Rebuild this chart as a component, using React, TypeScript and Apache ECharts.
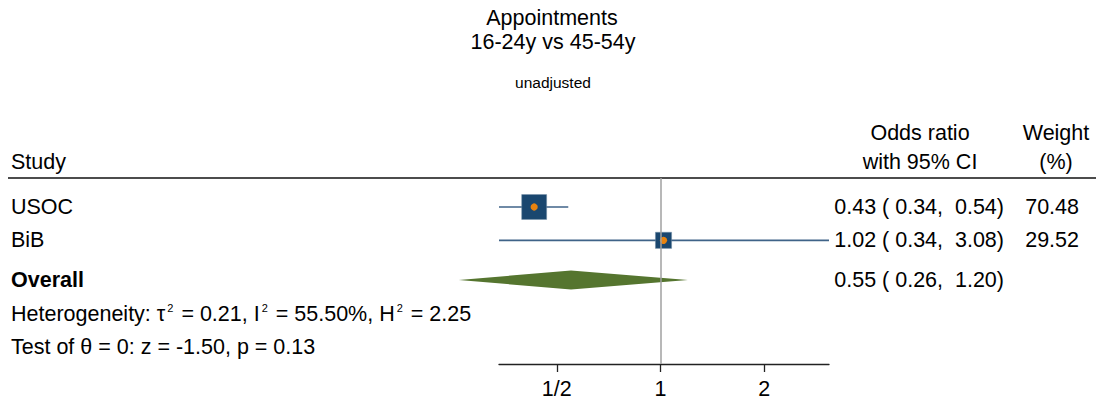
import React, { useEffect, useRef } from "react";
import * as echarts from "echarts";

// ---- data ----
const studies = ["USOC", "BiB"];
const oddsRatios = [0.43, 1.02];
const ciLower = [0.34, 0.34];
const ciUpper = [0.54, 3.08];
const weights = [70.48, 29.52];
const studyRows = [1, 2];

const overallLabel = "Overall";
const overallOR = 0.55;
const overallLower = 0.26;
const overallUpper = 1.2;
const overallRow = 3.19;

const tickValues = [0.5, 1, 2];
const tickLabels = ["1/2", "1", "2"];

const hetTau2 = "0.21";
const hetI2 = "55.50%";
const hetH2 = "2.25";
const testZ = "-1.50";
const testP = "0.13";

const titleLines = ["Appointments", "16-24y vs 45-54y"];
const subtitle = "unadjusted";

// ---- styling ----
const FONT = "'Liberation Sans', Arial, sans-serif";
const FS = 21.5;
const NAVY = "#1a476f";
const CI_LINE = "#3f6388";
const ORANGE = "#e8830f";
const GREEN = "#55752f";

const fmt = (v: number) => v.toFixed(2);
const pad5 = (v: number) => {
  const s = fmt(v);
  return s.length < 5 ? " ".repeat(5 - s.length) + s : s;
};
const ciText = (e: number, lo: number, hi: number) =>
  `${fmt(e)} (${pad5(lo)}, ${pad5(hi)})`;

const textStyle = (extra: any = {}) => ({
  fill: "#000",
  fontSize: FS,
  fontFamily: FONT,
  verticalAlign: "middle",
  ...extra,
});

export default function App() {
  const ref = useRef<HTMLDivElement>(null);

  useEffect(() => {
    if (!ref.current) return;
    const chart = echarts.init(ref.current, undefined, { renderer: "svg" });

    const studyData = studies.map((_, i) => [
      Math.log2(oddsRatios[i]),
      studyRows[i],
      Math.log2(ciLower[i]),
      Math.log2(ciUpper[i]),
      weights[i],
      i,
    ]);
    const overallData = [
      [Math.log2(overallOR), overallRow, Math.log2(overallLower), Math.log2(overallUpper)],
    ];

    const option: any = {
      animation: false,
      grid: {
        left: 499,
        right: 269,
        top: 178,
        bottom: 39,
        containLabel: false,
        outerBoundsMode: "none",
      },
      xAxis: {
        type: "value",
        min: Math.log2(0.34),
        max: Math.log2(3.08),
        position: "bottom",
        axisLine: { show: true, onZero: false, lineStyle: { color: "#222", width: 1.3 } },
        axisTick: {
          show: true,
          inside: false,
          customValues: tickValues.map((v) => Math.log2(v)),
          length: 8,
          lineStyle: { color: "#222", width: 1.3 },
        },
        axisLabel: {
          show: true,
          inside: false,
          customValues: tickValues.map((v) => Math.log2(v)),
          formatter: (v: number) => {
            let best = 0;
            tickValues.forEach((t, i) => {
              if (Math.abs(Math.log2(t) - v) < Math.abs(Math.log2(tickValues[best]) - v)) best = i;
            });
            return tickLabels[best];
          },
          fontSize: FS,
          fontFamily: FONT,
          color: "#000",
          margin: 14,
        },
        splitLine: { show: false },
      },
      yAxis: {
        type: "value",
        min: 0.13,
        max: 5.71,
        inverse: true,
        show: false,
      },
      graphic: [
        {
          type: "text",
          x: 552,
          y: 18,
          style: textStyle({ text: titleLines[0], align: "center" }),
        },
        {
          type: "text",
          x: 553,
          y: 42,
          style: textStyle({ text: titleLines[1], align: "center" }),
        },
        {
          type: "text",
          x: 553,
          y: 82,
          style: textStyle({ text: subtitle, align: "center", fontSize: 15.5 }),
        },
        { type: "text", x: 11, y: 162, style: textStyle({ text: "Study" }) },
        { type: "text", x: 920, y: 133, style: textStyle({ text: "Odds ratio", align: "center" }) },
        { type: "text", x: 920, y: 162, style: textStyle({ text: "with 95% CI", align: "center" }) },
        { type: "text", x: 1056, y: 133, style: textStyle({ text: "Weight", align: "center" }) },
        { type: "text", x: 1056, y: 162, style: textStyle({ text: "(%)", align: "center" }) },
        {
          type: "line",
          shape: { x1: 8, y1: 178, x2: 1096, y2: 178 },
          style: { stroke: "#111", lineWidth: 1.5 },
        },
        {
          type: "text",
          x: 11,
          y: 314,
          style: textStyle({
            text: `Heterogeneity: \u03c4{sup|2} = ${hetTau2}, I{sup|2} = ${hetI2}, H{sup|2} = ${hetH2}`,
            rich: { sup: { fontSize: 11, fontFamily: FONT, fill: "#000", verticalAlign: "top", lineHeight: 24, padding: [0, 2, 0, 2] } },
          }),
        },
        {
          type: "text",
          x: 11,
          y: 347,
          style: textStyle({ text: `Test of \u03b8 = 0: z = ${testZ}, p = ${testP}` }),
        },
      ],
      series: [
        {
          type: "custom",
          name: "studies",
          clip: false,
          encode: { x: 0, y: 1 },
          data: studyData,
          renderItem: (params: any, api: any) => {
            const i = api.value(5);
            const c = api.coord([api.value(0), api.value(1)]);
            const lo = api.coord([api.value(2), api.value(1)]);
            const hi = api.coord([api.value(3), api.value(1)]);
            const side = 2.97 * Math.sqrt(api.value(4));
            return {
              type: "group",
              children: [
                {
                  type: "line",
                  shape: { x1: lo[0], y1: c[1], x2: hi[0], y2: c[1] },
                  style: { stroke: CI_LINE, lineWidth: 1.6 },
                },
                {
                  type: "rect",
                  shape: { x: c[0] - side / 2, y: c[1] - side / 2, width: side, height: side },
                  style: { fill: NAVY, stroke: "#6f8aa3", lineWidth: 0.5 },
                },
                {
                  type: "circle",
                  shape: { cx: c[0], cy: c[1], r: 3.6 },
                  style: { fill: ORANGE },
                },
                {
                  type: "text",
                  x: 11,
                  y: c[1],
                  style: textStyle({ text: studies[i] }),
                },
                {
                  type: "text",
                  x: 1004,
                  y: c[1],
                  style: textStyle({
                    text: ciText(oddsRatios[i], ciLower[i], ciUpper[i]),
                    align: "right",
                  }),
                },
                {
                  type: "text",
                  x: 1079,
                  y: c[1],
                  style: textStyle({ text: fmt(weights[i]), align: "right" }),
                },
              ],
            };
          },
          markLine: {
            silent: true,
            symbol: ["none", "none"],
            label: { show: false },
            lineStyle: { color: "#a0a0a0", width: 1.5, type: "solid" },
            data: [{ xAxis: 0 }],
          },
        },
        {
          type: "custom",
          name: "overall",
          clip: false,
          encode: { x: 0, y: 1 },
          data: overallData,
          renderItem: (params: any, api: any) => {
            const c = api.coord([api.value(0), api.value(1)]);
            const lo = api.coord([api.value(2), api.value(1)]);
            const hi = api.coord([api.value(3), api.value(1)]);
            const h = 9.5;
            return {
              type: "group",
              children: [
                {
                  type: "polygon",
                  shape: {
                    points: [
                      [lo[0], c[1]],
                      [c[0], c[1] - h],
                      [hi[0], c[1]],
                      [c[0], c[1] + h],
                    ],
                  },
                  style: { fill: GREEN },
                },
                {
                  type: "text",
                  x: 11,
                  y: c[1],
                  style: textStyle({ text: overallLabel, fontWeight: "bold" }),
                },
                {
                  type: "text",
                  x: 1004,
                  y: c[1],
                  style: textStyle({
                    text: ciText(overallOR, overallLower, overallUpper),
                    align: "right",
                  }),
                },
              ],
            };
          },
        },
      ],
    };

    chart.setOption(option);
    return () => chart.dispose();
  }, []);

  return (
    <div
      ref={ref}
      style={{ position: "fixed", left: 0, top: 0, width: 1098, height: 403, background: "#fff" }}
    />
  );
}
